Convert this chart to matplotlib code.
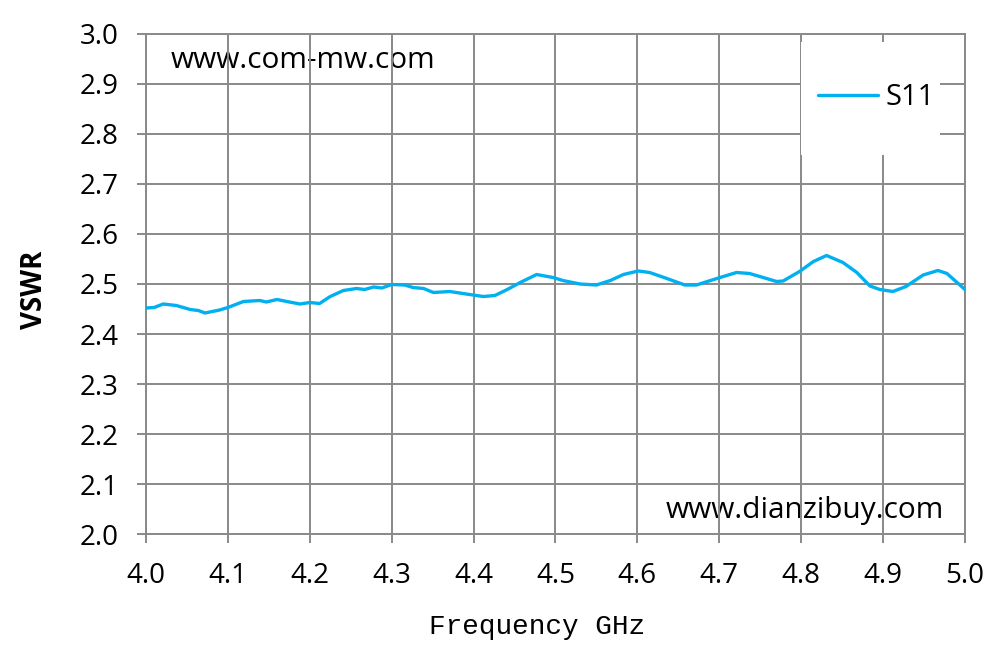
import matplotlib
matplotlib.use("Agg")
import matplotlib.pyplot as plt
from matplotlib.patches import Rectangle

# S11 VSWR
freq = [4.000, 4.010, 4.021, 4.037, 4.054, 4.064, 4.072, 4.090, 4.100, 4.119,
        4.139, 4.147, 4.160, 4.172, 4.188, 4.200, 4.212, 4.225, 4.241, 4.257,
        4.267, 4.278, 4.288, 4.300, 4.316, 4.326, 4.339, 4.351, 4.371, 4.391,
        4.412, 4.426, 4.440, 4.457, 4.477, 4.497, 4.509, 4.530, 4.550, 4.567,
        4.583, 4.601, 4.615, 4.636, 4.658, 4.672, 4.701, 4.721, 4.737, 4.770,
        4.778, 4.798, 4.815, 4.831, 4.851, 4.868, 4.884, 4.896, 4.912, 4.928,
        4.949, 4.967, 4.978, 5.000]
vswr = [2.452, 2.453, 2.460, 2.457, 2.449, 2.447, 2.442, 2.448, 2.453, 2.465,
        2.467, 2.464, 2.469, 2.465, 2.460, 2.463, 2.461, 2.475, 2.487, 2.491,
        2.489, 2.494, 2.492, 2.499, 2.498, 2.493, 2.491, 2.483, 2.485, 2.480,
        2.475, 2.477, 2.488, 2.503, 2.519, 2.513, 2.507, 2.500, 2.498, 2.507,
        2.519, 2.526, 2.523, 2.511, 2.498, 2.498, 2.513, 2.523, 2.521, 2.505,
        2.506, 2.525, 2.545, 2.557, 2.543, 2.523, 2.496, 2.489, 2.485, 2.495,
        2.518, 2.527, 2.521, 2.489]

xticks = [4.0, 4.1, 4.2, 4.3, 4.4, 4.5, 4.6, 4.7, 4.8, 4.9, 5.0]
yticks = [2.0, 2.1, 2.2, 2.3, 2.4, 2.5, 2.6, 2.7, 2.8, 2.9, 3.0]

grid_c = '#898989'
tick_font = 'Open Sans'

fig = plt.figure(figsize=(9.95, 6.61), dpi=100)
ax = fig.add_axes([0.1467, 0.1921, 0.8231, 0.7565])

ax.plot(freq, vswr, color='#00B0F0', linewidth=2.4, label='S11', zorder=3,
        solid_joinstyle='round', solid_capstyle='round')

ax.set_xlim(4.0, 5.0)
ax.set_ylim(2.0, 3.0)
ax.set_xticks(xticks)
ax.set_yticks(yticks)
ax.set_xticklabels(['%.1f' % v for v in xticks], fontfamily=tick_font, fontsize=20)
ax.set_yticklabels(['%.1f' % v for v in yticks], fontfamily=tick_font, fontsize=20)
ax.tick_params(axis='both', direction='out', length=6.5, width=1.4, color=grid_c)
ax.tick_params(axis='y', pad=13)
ax.tick_params(axis='x', pad=14)
ax.set_axisbelow(True)
ax.grid(True, color=grid_c, linewidth=1.4)
for s in ax.spines.values():
    s.set_color(grid_c)
    s.set_linewidth(1.4)

ax.set_ylabel('VSWR', fontfamily=tick_font, fontsize=20, fontweight='bold')
ax.yaxis.set_label_coords(-0.119, 0.488)
ax.set_xlabel('Frequency GHz', fontfamily='Liberation Mono', fontsize=20, va='top')
ax.xaxis.set_label_coords(0.477, -0.16)

# watermarks sit under the grid
ax.text(0.03, 0.947, 'www.com-mw.com', transform=ax.transAxes, fontfamily=tick_font,
        fontsize=21.5, va='center', ha='left', zorder=0.1)
ax.text(0.974, 0.048, 'www.dianzibuy.com', transform=ax.transAxes, fontfamily=tick_font,
        fontsize=21.5, va='center', ha='right', zorder=0.1)

# legend box
ax.add_patch(Rectangle((0.8, 0.757), 0.17, 0.227, transform=ax.transAxes,
                       facecolor='white', edgecolor='none', zorder=2))
leg = ax.legend(loc='center left', bbox_to_anchor=(0.8205, 0.872), frameon=False,
                prop={'family': tick_font, 'size': 21}, handlelength=2.05,
                handletextpad=0.25, borderpad=0, borderaxespad=0)
leg.set_zorder(4)

fig.savefig('out.png', dpi=100)
